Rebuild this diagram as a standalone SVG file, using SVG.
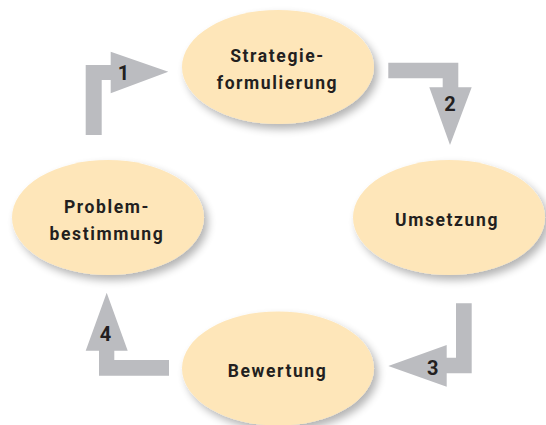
<svg xmlns="http://www.w3.org/2000/svg" width="546" height="425" viewBox="0 0 546 425">
<defs>
<filter id="sh" x="-20%" y="-20%" width="150%" height="160%">
<feGaussianBlur in="SourceAlpha" stdDeviation="4"/>
<feOffset dx="4" dy="5" result="b"/>
<feComponentTransfer><feFuncA type="linear" slope="0.3"/></feComponentTransfer>
<feMerge><feMergeNode/><feMergeNode in="SourceGraphic"/></feMerge>
</filter>
</defs>
<style>
.node ellipse{fill:#FEE6B9;filter:url(#sh)}
.node text,.lbl{font-family:"Roboto","Liberation Sans",sans-serif;font-weight:700;fill:#231F20;text-anchor:middle}
.node text{font-size:17.5px;letter-spacing:1.6px}
.arrow{fill:#BBBCC0}
.lbl{font-size:20px}
</style>
<rect width="546" height="425" fill="#ffffff"/>
<g id="connectors">
<g id="arrow1">
<path class="arrow" d="M85.7,135 V65 H110.7 V51.7 L168.3,71.7 L110.7,93.3 V80 H101.7 V135 Z"/>
<text class="lbl" x="123.5" y="80">1</text>
</g>
<g id="arrow2">
<path class="arrow" d="M388.3,62.7 H458.3 V87.3 H471.7 L450,145 L429.3,87.3 H442.7 V78.3 H388.3 Z"/>
<text class="lbl" x="450" y="111">2</text>
</g>
<g id="arrow3">
<path class="arrow" d="M456,303.3 H471.7 V373.3 H446.7 V386.7 L388.3,366 L446.7,345 V357.7 H456 Z"/>
<text class="lbl" x="432.7" y="375">3</text>
</g>
<g id="arrow4">
<path class="arrow" d="M169,375.7 H99 V350.7 H85.7 L106.7,292.7 L127.7,350.7 H114.3 V360 H169 Z"/>
<text class="lbl" x="105.5" y="341">4</text>
</g>
</g>
<g id="node-strategie" class="node">
<ellipse cx="278" cy="67" rx="96" ry="57"/>
<text x="277.5" y="62">Strategie-</text>
<text x="277.5" y="89">formulierung</text>
</g>
<g id="node-umsetzung" class="node">
<ellipse cx="449" cy="217.5" rx="96" ry="57.5"/>
<text x="447" y="226">Umsetzung</text>
</g>
<g id="node-bewertung" class="node">
<ellipse cx="278" cy="368.5" rx="96" ry="57"/>
<text x="277.5" y="377">Bewertung</text>
</g>
<g id="node-problem" class="node">
<ellipse cx="108" cy="217.5" rx="96" ry="57.5"/>
<text x="107" y="212.5">Problem-</text>
<text x="107" y="240">bestimmung</text>
</g>
</svg>
